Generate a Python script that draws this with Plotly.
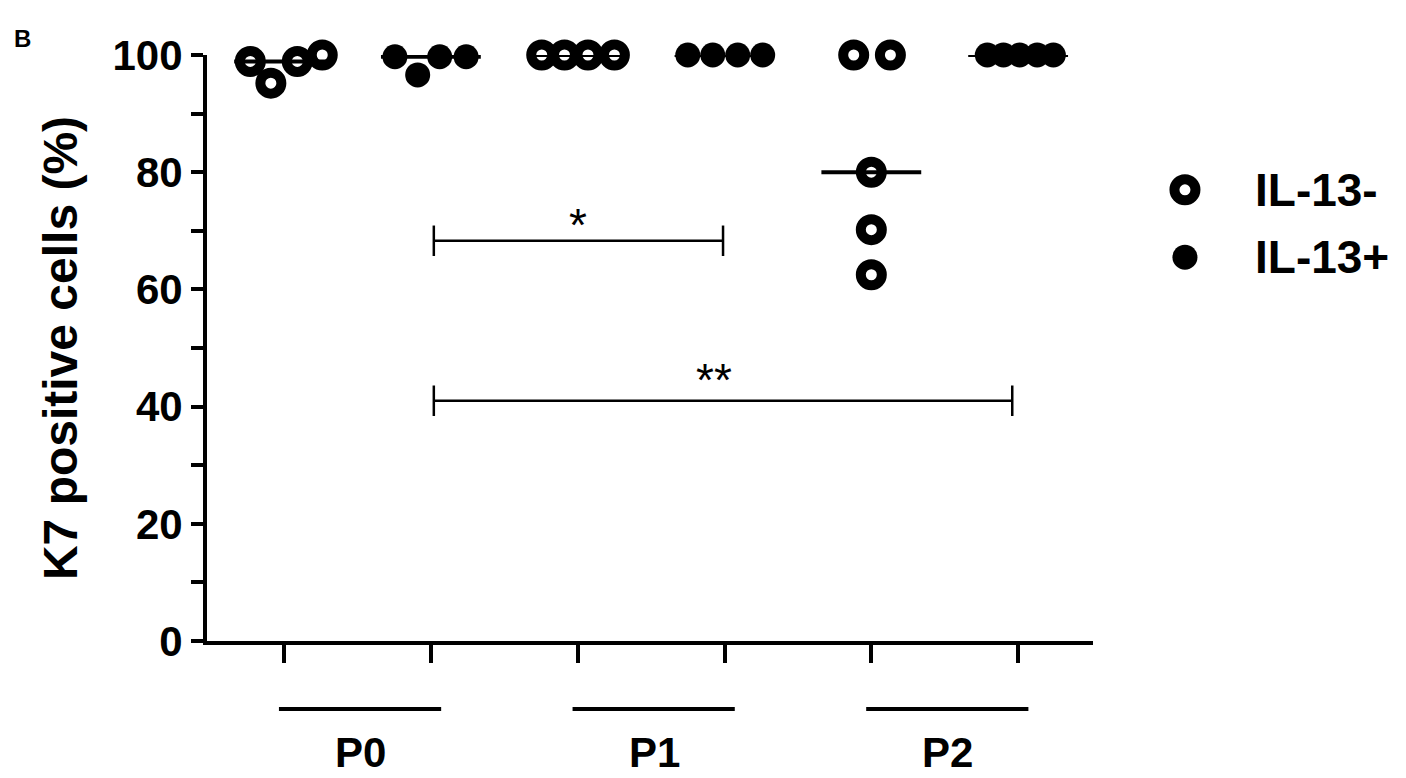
import numpy as np
import plotly.graph_objects as go

# ---------------- data ----------------
group_pos = [1, 2, 3, 4, 5, 6]          # column index on the x axis
group_type = ["IL-13-", "IL-13+", "IL-13-", "IL-13+", "IL-13-", "IL-13+"]
group_vals = [
    [98.9, 95.2, 98.9, 100.0],          # P0 IL-13-
    [99.7, 96.6, 99.7, 99.7],           # P0 IL-13+
    [100.0, 100.0, 100.0, 100.0],       # P1 IL-13-
    [100.0, 100.0, 100.0, 100.0],       # P1 IL-13+
    [100.0, 100.0, 80.0, 70.2, 62.5],   # P2 IL-13-
    [100.0, 100.0, 100.0, 100.0, 100.0] # P2 IL-13+
]
group_jitter = [
    [-0.23, -0.09, 0.09, 0.26],
    [-0.245, -0.09, 0.06, 0.24],
    [-0.245, -0.09, 0.07, 0.25],
    [-0.25, -0.08, 0.09, 0.26],
    [-0.12, 0.13, 0.0, 0.0, 0.0],
    [-0.21, -0.10, 0.01, 0.13, 0.24],
]
passage_labels = ["P0", "P1", "P2"]
passage_groups = [(1, 2), (3, 4), (5, 6)]
y_ticks = [0, 20, 40, 60, 80, 100]
y_minor = [10, 30, 50, 70, 90]
y_title = "K7 positive cells (%)"
legend_names = ["IL-13-", "IL-13+"]

sig_x0 = [2.02, 2.02]
sig_x1 = [3.99, 5.96]
sig_y = [68.3, 41.0]
sig_text = ["*", "**"]
sig_text_x = [3.0, 3.93]
sig_text_y = [71.0, 44.6]

# ---------------- style ----------------
# the page body has an 8px margin, so the figure is drawn 8px smaller
W, H = 1398, 770
ML, MR, MT, MB = 199, 6, 47, 137
plot_w = W - ML - MR
main_frac = 886 / plot_w
FONT = "Liberation Sans, Arial, sans-serif"
OPEN = dict(symbol="circle-open", size=21, color="black", line=dict(width=10, color="black"))
FILLED = dict(symbol="circle", size=25, color="black", line=dict(width=0))
marker_style = {"IL-13-": OPEN, "IL-13+": FILLED}
median_half = 0.34

fig = go.Figure()

# median lines
for pos, vals in zip(group_pos, group_vals):
    m = float(np.median(vals))
    fig.add_trace(go.Scatter(x=[pos - median_half, pos + median_half], y=[m, m], mode="lines",
                             line=dict(color="black", width=4), showlegend=False,
                             hoverinfo="skip", cliponaxis=False))

# points
for pos, typ, vals, jit in zip(group_pos, group_type, group_vals, group_jitter):
    fig.add_trace(go.Scatter(x=[pos + j for j in jit], y=vals, mode="markers",
                             marker=marker_style[typ], name=typ, showlegend=False,
                             cliponaxis=False))

# significance brackets
tick_h = 2.6
for x0, x1, yy, txt, tx, ty in zip(sig_x0, sig_x1, sig_y, sig_text, sig_text_x, sig_text_y):
    fig.add_trace(go.Scatter(
        x=[x0, x1, None, x0, x0, None, x1, x1],
        y=[yy, yy, None, yy - tick_h, yy + tick_h, None, yy - tick_h, yy + tick_h],
        mode="lines", line=dict(color="black", width=2.5), showlegend=False,
        hoverinfo="skip", cliponaxis=False))
    fig.add_annotation(x=tx, y=ty, text=txt, showarrow=False, xref="x", yref="y",
                       yanchor="middle", font=dict(family=FONT, size=46, color="black"))

# passage underlines and labels
for lab, (g0, g1) in zip(passage_labels, passage_groups):
    fig.add_shape(type="line", xref="x", yref="paper", x0=g0 - 0.035, x1=g1 + 0.07,
                  y0=-0.116, y1=-0.116, line=dict(color="black", width=4))
    fig.add_annotation(x=(g0 + g1) / 2 + 0.02, y=-0.191, xref="x", yref="paper", text=f"<b>{lab}</b>",
                       showarrow=False, yanchor="middle",
                       font=dict(family=FONT, size=42, color="black"))

# custom legend on helper axes
legend_y = [0.77, 0.655]
for name, ly in zip(legend_names, legend_y):
    fig.add_trace(go.Scatter(x=[0.104], y=[ly], mode="markers", marker=marker_style[name],
                             xaxis="x2", yaxis="y2", showlegend=False, hoverinfo="skip",
                             cliponaxis=False))
    fig.add_annotation(x=0.3875, y=ly, xref="x2", yref="y2", text=f"<b>{name}</b>",
                       showarrow=False, xanchor="left", yanchor="middle",
                       font=dict(family=FONT, size=46, color="black"))

# panel letter
fig.add_annotation(x=-0.155, y=1.029, xref="paper", yref="paper", text="<b>B</b>",
                   showarrow=False, xanchor="center", yanchor="middle",
                   font=dict(family=FONT, size=24, color="black"))

fig.update_layout(
    width=W, height=H, margin=dict(l=ML, r=MR, t=MT, b=MB),
    plot_bgcolor="white", paper_bgcolor="white", showlegend=False,
    font=dict(family=FONT, color="black"),
    xaxis=dict(domain=[0, main_frac], range=[0.475, 6.51], showgrid=False, zeroline=False,
               showline=True, linewidth=4, linecolor="black", ticks="outside", ticklen=18,
               tickwidth=4, tickcolor="black", tickvals=group_pos, showticklabels=False),
    yaxis=dict(range=[0, 100], showgrid=False, zeroline=False, showline=True, linewidth=4,
               linecolor="black", ticks="outside", ticklen=12, tickwidth=4, tickcolor="black",
               tickvals=y_ticks, ticktext=[f"<b>{v}</b>" for v in y_ticks],
               tickfont=dict(family=FONT, size=42, color="black"),
               minor=dict(tickvals=y_minor, ticks="outside", ticklen=12,
                          tickwidth=4, tickcolor="black"),
               title=dict(text=f"<b>{y_title}</b>", standoff=21,
                          font=dict(family=FONT, size=48, color="black"))),
    xaxis2=dict(domain=[(1152 - ML) / plot_w, 1.0], range=[0, 1], visible=False, anchor="y2"),
    yaxis2=dict(domain=[0, 1], range=[0, 1], visible=False, anchor="x2"),
)

fig.write_html("out.html")
